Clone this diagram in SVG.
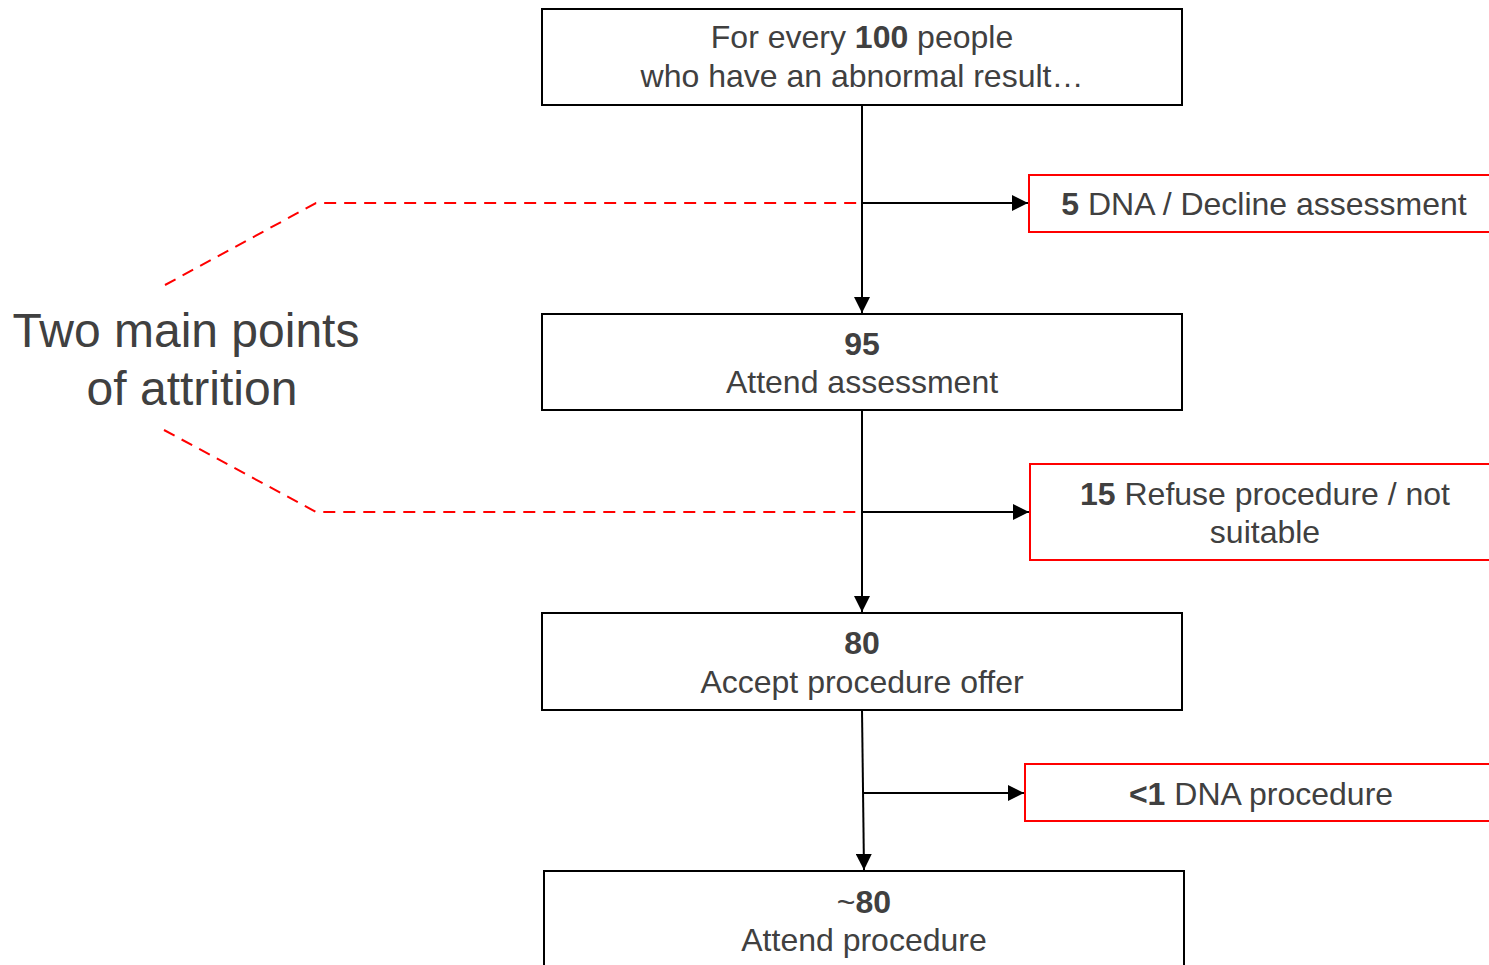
<svg xmlns="http://www.w3.org/2000/svg" width="1489" height="965" viewBox="0 0 1489 965">
<style>
.box{fill:#fff;stroke:#000;stroke-width:2}
.rbox{fill:#fff;stroke:#f00;stroke-width:2}
.t{font-family:"Liberation Sans",Arial,sans-serif;font-size:32px;fill:#404040;text-anchor:middle}
.b{font-weight:bold}
.big{font-family:"Liberation Sans",Arial,sans-serif;font-size:48px;fill:#404040;text-anchor:middle}
.c{fill:none;stroke:#000;stroke-width:2}
.d{fill:none;stroke:#f00;stroke-width:2;stroke-dasharray:12 8}
</style>
<defs>
<marker id="ah2" viewBox="0 0 10 10" refX="10" refY="5" markerWidth="16" markerHeight="16" markerUnits="userSpaceOnUse" orient="auto">
<path d="M0,0 L10,5 L0,10 Z" fill="#000"/>
</marker>
</defs>
<g id="connectors">
<path class="d" d="M165,285 L316,203 H862"/>
<path class="d" d="M164,430 L316,512 H862"/>
<line class="c" x1="862" y1="105" x2="862" y2="313" marker-end="url(#ah2)"/>
<line class="c" x1="862" y1="203" x2="1028" y2="203" marker-end="url(#ah2)"/>
<line class="c" x1="862" y1="410" x2="862" y2="612" marker-end="url(#ah2)"/>
<line class="c" x1="862" y1="512" x2="1029" y2="512" marker-end="url(#ah2)"/>
<line class="c" x1="862" y1="710" x2="864" y2="870" marker-end="url(#ah2)"/>
<line class="c" x1="864" y1="793" x2="1024" y2="793" marker-end="url(#ah2)"/>
</g>
<g id="label-attrition">
<text class="big" x="186" y="347">Two main points</text>
<text class="big" x="192" y="405">of attrition</text>
</g>
<g id="n100">
<rect class="box" x="542" y="9" width="640" height="96"/>
<text class="t" x="862" y="48">For every <tspan class="b">100</tspan> people</text>
<text class="t" x="862" y="87">who have an abnormal result…</text>
</g>
<g id="n95">
<rect class="box" x="542" y="314" width="640" height="96"/>
<text class="t b" x="862" y="355">95</text>
<text class="t" x="862" y="393">Attend assessment</text>
</g>
<g id="n80">
<rect class="box" x="542" y="613" width="640" height="97"/>
<text class="t b" x="862" y="654">80</text>
<text class="t" x="862" y="693">Accept procedure offer</text>
</g>
<g id="n80b">
<rect class="box" x="544" y="871" width="640" height="110"/>
<text class="t" x="864" y="913">~<tspan class="b">80</tspan></text>
<text class="t" x="864" y="951">Attend procedure</text>
</g>
<g id="r5">
<rect class="rbox" x="1029" y="175" width="480" height="57"/>
<text class="t" x="1264" y="215"><tspan class="b">5</tspan> DNA / Decline assessment</text>
</g>
<g id="r15">
<rect class="rbox" x="1030" y="464" width="480" height="96"/>
<text class="t" x="1265" y="505"><tspan class="b">15</tspan> Refuse procedure / not</text>
<text class="t" x="1265" y="543">suitable</text>
</g>
<g id="r1">
<rect class="rbox" x="1025" y="764" width="480" height="57"/>
<text class="t" x="1261" y="805"><tspan class="b">&lt;1</tspan> DNA procedure</text>
</g>
</svg>
